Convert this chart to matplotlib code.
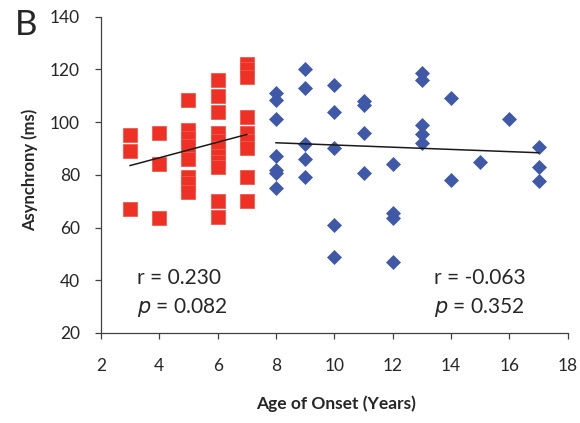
import matplotlib
matplotlib.use("Agg")
import matplotlib.pyplot as plt
import numpy as np

plt.rcParams['font.family'] = ['Lato', 'DejaVu Sans']

# early onset (< 8 years)
early_age = [3, 3, 3,
             4, 4, 4,
             5, 5, 5, 5, 5, 5, 5, 5,
             6, 6, 6, 6, 6, 6, 6, 6, 6, 6, 6,
             7, 7, 7, 7, 7, 7, 7, 7, 7]
early_async = [95, 89, 67,
               96, 84, 63.5,
               108.5, 97, 94, 91, 86, 79, 77, 73.5,
               116, 110, 104, 96, 93, 90, 87, 85, 83, 70, 64,
               122, 120, 117, 102, 96, 93, 90, 79, 70]

# late onset (>= 8 years)
late_age = [8, 8, 8, 8, 8, 8, 8,
            9, 9, 9, 9, 9,
            10, 10, 10, 10, 10,
            11, 11, 11, 11,
            12, 12, 12, 12,
            13, 13, 13, 13, 13,
            14, 14,
            15,
            16,
            17, 17, 17]
late_async = [111, 108.5, 101, 87, 82, 80.5, 75,
              120, 113, 91.5, 86, 79,
              114, 104, 90, 61, 49,
              108, 106.5, 96, 80.5,
              84, 65.5, 63.5, 47,
              118.5, 116, 99, 95.5, 92,
              109, 78,
              85,
              101,
              90.5, 83, 77.5]

# linear trend (slope, intercept) for each group
fit_early = (2.95, 74.65)
fit_late = (-0.42, 95.5)

stats_early = ("r = 0.230", "0.082")
stats_late = ("r = -0.063", "0.352")

red = '#ee3124'
blue = '#3f58a8'
txt = '#262626'

fig = plt.figure(figsize=(5.8, 4.23), dpi=100)
ax = fig.add_axes([0.174, 0.2128, 0.805, 0.748])

ax.plot(early_age, early_async, 's', ms=10.6, color=red, mec='#f05a4c', mew=0.6, ls='none', zorder=2)
ax.plot(late_age, late_async, 'D', ms=7.6, color=blue, mec=blue, mew=0.5, ls='none', zorder=2)

for xs, (k, b) in ((early_age, fit_early), (late_age, fit_late)):
    xx = np.array([min(xs), max(xs)], dtype=float)
    ax.plot(xx, k * xx + b, color='#1a1a1a', lw=1.1, zorder=3)

ax.set_xlim(2, 18)
ax.set_ylim(20, 140)
ax.set_xticks(np.arange(2, 19, 2))
ax.set_yticks(np.arange(20, 141, 20))
for s in ('top', 'right'):
    ax.spines[s].set_visible(False)
for s in ('left', 'bottom'):
    ax.spines[s].set_color('#404040')
    ax.spines[s].set_linewidth(0.9)
ax.tick_params(direction='out', length=4, width=0.9, color='#404040',
               labelsize=12.5, labelcolor=txt)
ax.tick_params(axis='x', pad=14)
ax.tick_params(axis='y', pad=11)

ax.text(0.503, -0.225, 'Age of Onset (Years)', transform=ax.transAxes, fontsize=12.5,
        fontweight='bold', color=txt, ha='center', va='center')
ax.text(-0.152, 0.516, 'Asynchrony (ms)', transform=ax.transAxes, fontsize=12,
        fontweight='bold', color=txt, ha='center', va='center', rotation=90)

ax.text(3.25, 40.8, stats_early[0], fontsize=15, color=txt, va='center')
ax.text(3.25, 29.5, r'$\it{p}$ = ' + stats_early[1], fontsize=15, color=txt, va='center')
ax.text(13.4, 40.8, stats_late[0], fontsize=15, color=txt, va='center')
ax.text(13.4, 29.5, r'$\it{p}$ = ' + stats_late[1], fontsize=15, color=txt, va='center')

fig.text(0.026, 0.94, 'B', fontsize=25, color=txt, va='center')

fig.savefig('out.png', dpi=100)
